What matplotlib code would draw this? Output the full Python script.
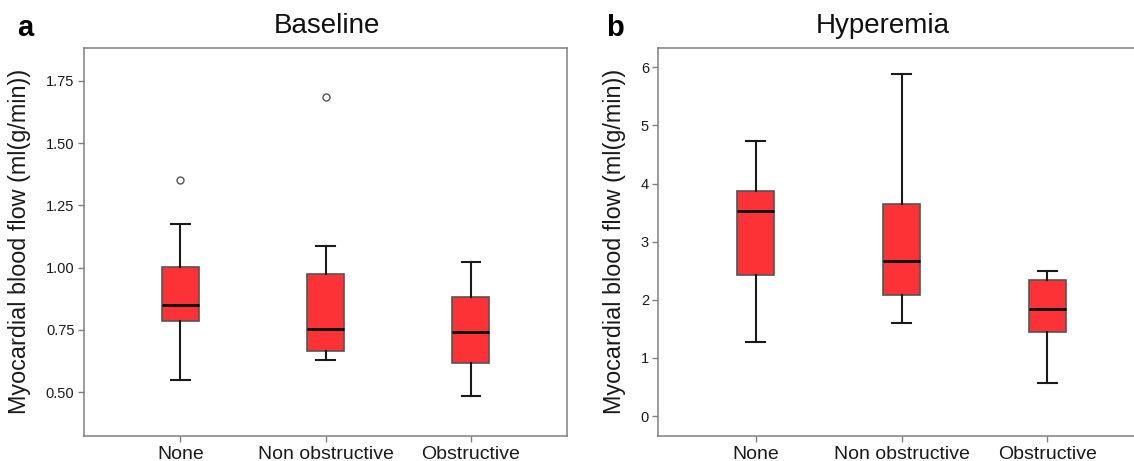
import matplotlib
matplotlib.use('Agg')
import matplotlib.pyplot as plt

plt.rcParams['font.family'] = ['Liberation Sans', 'DejaVu Sans']

# ---------------- data ----------------
categories = ['None', 'Non obstructive', 'Obstructive']

baseline_whislo = [0.55, 0.627, 0.483]
baseline_q1 = [0.785, 0.666, 0.615]
baseline_med = [0.851, 0.752, 0.741]
baseline_q3 = [1.003, 0.976, 0.882]
baseline_whishi = [1.175, 1.087, 1.024]
baseline_fliers = [[1.352], [1.684], []]

hyper_whislo = [1.28, 1.605, 0.567]
hyper_q1 = [2.42, 2.08, 1.44]
hyper_med = [3.53, 2.66, 1.84]
hyper_q3 = [3.87, 3.64, 2.34]
hyper_whishi = [4.73, 5.885, 2.495]
hyper_fliers = [[], [], []]

baseline_ticks = [0.50, 0.75, 1.00, 1.25, 1.50, 1.75]
hyper_ticks = [0, 1, 2, 3, 4, 5, 6]

ylabel = 'Myocardial blood flow (ml(g/min))'


def make_stats(lo, q1, med, q3, hi, fl):
    return [dict(label=c, whislo=a, q1=b, med=m, q3=d, whishi=e, fliers=f)
            for c, a, b, m, d, e, f in zip(categories, lo, q1, med, q3, hi, fl)]


W, H = 1134, 461
fig = plt.figure(figsize=(W / 100, H / 100), dpi=100)

bottom = 1 - 436 / H
height = (436 - 48) / H
ax1 = fig.add_axes([83.7 / W, bottom, (567.4 - 83.7) / W, height])
ax2 = fig.add_axes([658.3 / W, bottom, (1144.7 - 658.3) / W, height])

box_kw = dict(
    positions=[1, 2, 3], widths=0.25, patch_artist=True,
    boxprops=dict(facecolor='#FC3236', edgecolor='#555555', linewidth=1.2),
    medianprops=dict(color='black', linewidth=2.0),
    whiskerprops=dict(color='#1a1a1a', linewidth=1.5),
    capprops=dict(color='#1a1a1a', linewidth=1.5),
    flierprops=dict(marker='o', markerfacecolor='none', markeredgecolor='#555555',
                    markersize=5, markeredgewidth=1.0),
)

ax1.bxp(make_stats(baseline_whislo, baseline_q1, baseline_med, baseline_q3,
                   baseline_whishi, baseline_fliers), **box_kw)
ax2.bxp(make_stats(hyper_whislo, hyper_q1, hyper_med, hyper_q3,
                   hyper_whishi, hyper_fliers), **box_kw)

ax1.set_ylim(0.3232, 1.8826)
ax1.set_yticks(baseline_ticks)
ax1.set_yticklabels([f'{t:.2f}' for t in baseline_ticks])
ax2.set_ylim(-0.344, 6.332)
ax2.set_yticks(hyper_ticks)
ax2.set_yticklabels([str(t) for t in hyper_ticks])

for ax in (ax1, ax2):
    ax.set_xlim(1 - 0.667, 3 + 0.667)
    ax.set_xticks([1, 2, 3])
    ax.set_xticklabels(categories)
    for s in ax.spines.values():
        s.set_color('#808080')
        s.set_linewidth(1.1)
    ax.tick_params(axis='both', direction='out', length=4.2, width=1.0,
                   color='#808080', labelcolor='#1a1a1a')
    ax.tick_params(axis='y', labelsize=10.5, pad=2.5)
    ax.tick_params(axis='x', labelsize=14, pad=3)

# y labels
fig.text(20 / W, 1 - 241 / H, ylabel, rotation=90, ha='center', va='center',
         fontsize=16.8, color='#1a1a1a')
fig.text(615 / W, 1 - 241 / H, ylabel, rotation=90, ha='center', va='center',
         fontsize=16.8, color='#1a1a1a')

# titles
fig.text(327 / W, 1 - 33 / H, 'Baseline', ha='center', va='baseline',
         fontsize=20, color='#111111')
fig.text(883 / W, 1 - 33 / H, 'Hyperemia', ha='center', va='baseline',
         fontsize=20, color='#111111')

# panel letters
fig.text(17 / W, 1 - 36 / H, 'a', ha='left', va='baseline', fontsize=21,
         fontweight='bold', color='black')
fig.text(606 / W, 1 - 36 / H, 'b', ha='left', va='baseline', fontsize=21,
         fontweight='bold', color='black')

fig.savefig('out.png', dpi=100)
